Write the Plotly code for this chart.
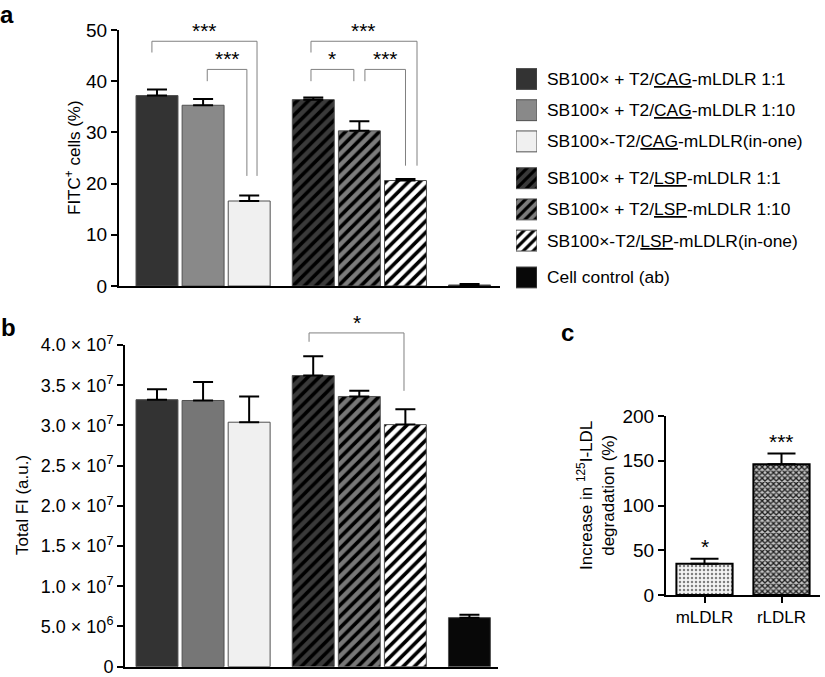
import plotly.graph_objects as go

# ---------------- data ----------------
groups = [0, 0, 0, 1, 1, 1, 2]
legend_labels = [
    "SB100× + T2/<u>CAG</u>-mLDLR 1:1",
    "SB100× + T2/<u>CAG</u>-mLDLR 1:10",
    "SB100×-T2/<u>CAG</u>-mLDLR(in-one)",
    "SB100× + T2/<u>LSP</u>-mLDLR 1:1",
    "SB100× + T2/<u>LSP</u>-mLDLR 1:10",
    "SB100×-T2/<u>LSP</u>-mLDLR(in-one)",
    "Cell control (ab)",
]
a_vals = [37.2, 35.3, 16.6, 36.4, 30.3, 20.6, 0.2]
a_err = [1.2, 1.2, 1.1, 0.4, 1.9, 0.3, 0.2]
a_ticks = [0, 10, 20, 30, 40, 50]

b_vals = [33.2e6, 33.1e6, 30.4e6, 36.2e6, 33.6e6, 30.1e6, 6.1e6]
b_err = [1.3e6, 2.3e6, 3.2e6, 2.4e6, 0.7e6, 1.9e6, 0.35e6]
b_ticks = [0, 5e6, 1e7, 1.5e7, 2e7, 2.5e7, 3e7, 3.5e7, 4e7]
b_ticktext = ["0", "5.0 × 10<sup>6</sup>", "1.0 × 10<sup>7</sup>", "1.5 × 10<sup>7</sup>",
              "2.0 × 10<sup>7</sup>", "2.5 × 10<sup>7</sup>", "3.0 × 10<sup>7</sup>",
              "3.5 × 10<sup>7</sup>", "4.0 × 10<sup>7</sup>"]

c_cats = ["mLDLR", "rLDLR"]
c_vals = [35, 146]
c_err = [5.6, 12]
c_stars = ["*", "***"]
c_ticks = [0, 50, 100, 150, 200]

# significance brackets: (left bar, dx, right bar, dx, top, left end, right end, label)
a_brackets = [
    (0, -0.11, 2, 0.17, 47.8, 45.6, 21.5, "***"),
    (1, 0.09, 2, -0.05, 42.3, 40.0, 21.5, "***"),
    (3, -0.05, 5, 0.25, 47.8, 45.6, 23.5, "***"),
    (3, -0.05, 4, -0.12, 42.3, 40.0, 40.0, "*"),
    (4, 0.12, 5, 0.0, 42.3, 40.0, 23.5, "***"),
]
b_brackets = [
    (3, -0.09, 5, -0.03, 41.5e6, 40.4e6, 34.3e6, "*"),
]

# ---------------- styles ----------------
GAP = 0.39
pos = [i + GAP * g for i, g in enumerate(groups)]
leg_pos = [i + 0.18 * g for i, g in enumerate(groups)]

shapes_pat = ["", "", "", "/", "/", "/", ""]
a_colors = ["#333333", "#898989", "#f0f0f0", "#3a3a3a", "#7c7c7c", "#ffffff", "#080808"]
b_colors = ["#333333", "#767676", "#f0f0f0", "#3a3a3a", "#777777", "#ffffff", "#080808"]
OUT = "#505050"
FONT = "Liberation Sans, Arial, Helvetica, sans-serif"

W, H = 825, 677


def px_x(p):
    return p / W


def px_y(p):
    return 1 - p / H


def marker_for(color, shape, size=8):
    m = dict(color=color, line=dict(color=OUT, width=1))
    if shape:
        m["pattern"] = dict(shape=shape, fgcolor="black", bgcolor=color, fgopacity=1,
                            size=size, solidity=0.45, fillmode="replace")
    return m


fig = go.Figure()

# panel a
for k in range(len(a_vals)):
    fig.add_trace(go.Bar(
        x=[pos[k]], y=[a_vals[k]], width=0.91, marker=marker_for(a_colors[k], shapes_pat[k]),
        error_y=dict(type="data", symmetric=False, array=[a_err[k]], arrayminus=[0],
                     color="black", thickness=2, width=10),
        xaxis="x", yaxis="y", showlegend=False, hoverinfo="y"))

# panel b
for k in range(len(b_vals)):
    fig.add_trace(go.Bar(
        x=[pos[k]], y=[b_vals[k]], width=0.91, marker=marker_for(b_colors[k], shapes_pat[k]),
        error_y=dict(type="data", symmetric=False, array=[b_err[k]], arrayminus=[0],
                     color="black", thickness=2, width=10),
        xaxis="x2", yaxis="y2", showlegend=False, hoverinfo="y"))

# panel c
c_style = [
    dict(color="#f4f4f4", pattern=dict(shape=".", fgcolor="#808080", bgcolor="#f4f4f4",
                                       fgopacity=1, size=4, solidity=0.3, fillmode="replace")),
    dict(color="#c4c4c4", pattern=dict(shape="x", fgcolor="#1e1e1e", bgcolor="#c4c4c4",
                                       fgopacity=1, size=4, solidity=0.55, fillmode="replace")),
]
for k, cat in enumerate(c_cats):
    fig.add_trace(go.Bar(
        x=[cat], y=[c_vals[k]], width=0.73,
        marker=dict(line=dict(color="black", width=2), **c_style[k]),
        error_y=dict(type="data", symmetric=False, array=[c_err[k]], arrayminus=[0],
                     color="black", thickness=2, width=14),
        xaxis="x3", yaxis="y3", showlegend=False, hoverinfo="y"))

# legend swatches
for k in range(len(legend_labels)):
    fig.add_trace(go.Bar(
        orientation="h", x=[1], y=[leg_pos[k]], width=0.67,
        marker=marker_for(a_colors[k], shapes_pat[k], size=7),
        xaxis="x4", yaxis="y4", showlegend=False, hoverinfo="skip"))

# domains (page pixels)
xa = [px_x(119), px_x(500)]
ya = [px_y(286), px_y(30)]
xb = [px_x(125), px_x(498)]
yb = [px_y(666.7), px_y(345)]
xc = [px_x(666), px_x(820)]
yc = [px_y(595), px_y(416)]
xl = [px_x(516), px_x(537)]
yl_rng = [6.96, -0.6]
yl = [px_y(79 + 6.96 * 31.2), px_y(79 - 0.6 * 31.2)]

TICKFONT = dict(family=FONT, size=19, color="black")
axis_common = dict(showline=True, linecolor="black", linewidth=2, showgrid=False,
                   zeroline=False, ticks="outside", tickwidth=2, ticklen=6,
                   tickcolor="black", automargin=False)
hidden_x = dict(showline=True, linecolor="black", linewidth=2, showgrid=False,
                zeroline=False, showticklabels=False, ticks="", automargin=False)

fig.update_layout(
    template="none",
    width=W, height=H, margin=dict(l=0, r=0, t=0, b=0, pad=0, autoexpand=False),
    paper_bgcolor="white", plot_bgcolor="rgba(0,0,0,0)", barmode="overlay",
    font=dict(family=FONT, color="black"),
    xaxis=dict(domain=xa, range=[-0.824, 7.44], anchor="y", **hidden_x),
    yaxis=dict(domain=ya, range=[0, 50], anchor="x", tickvals=a_ticks,
               tickfont=TICKFONT, **axis_common),
    xaxis2=dict(domain=xb, range=[-0.694, 7.40], anchor="y2", **hidden_x),
    yaxis2=dict(domain=yb, range=[0, 4e7], anchor="x2", tickvals=b_ticks,
                ticktext=b_ticktext, tickfont=dict(family=FONT, size=18, color="black"),
                **axis_common),
    xaxis3=dict(domain=xc, anchor="y3", tickfont=dict(family=FONT, size=17, color="black"),
                **axis_common),
    yaxis3=dict(domain=yc, range=[0, 200], anchor="x3", tickvals=c_ticks,
                tickfont=TICKFONT, **axis_common),
    xaxis4=dict(domain=xl, range=[0, 1], anchor="y4", visible=False, automargin=False),
    yaxis4=dict(domain=yl, range=yl_rng, anchor="x4", visible=False, automargin=False),
)

shapes = []
annots = []
GRAY = "#808080"
STARFONT = dict(family=FONT, size=21, color="black")

for (i, di, j, dj, top, ly, ry, lab) in a_brackets:
    x0, x1 = pos[i] + di, pos[j] + dj
    path = f"M{x0},{ly} L{x0},{top} L{x1},{top} L{x1},{ry}"
    shapes.append(dict(type="path", path=path, xref="x", yref="y",
                       line=dict(color=GRAY, width=1)))
    annots.append(dict(x=(x0 + x1) / 2, y=top, xref="x", yref="y", text=lab,
                       showarrow=False, xanchor="center", yanchor="middle", yshift=11,
                       font=STARFONT))


def b_paper(v):
    return yb[0] + v / 4e7 * (yb[1] - yb[0])


for (i, di, j, dj, top, ly, ry, lab) in b_brackets:
    x0, x1 = pos[i] + di, pos[j] + dj
    for (xa0, ya0, xa1, ya1) in [(x0, ly, x0, top), (x0, top, x1, top), (x1, top, x1, ry)]:
        shapes.append(dict(type="line", x0=xa0, x1=xa1, y0=b_paper(ya0), y1=b_paper(ya1),
                           xref="x2", yref="paper", line=dict(color=GRAY, width=1)))
    annots.append(dict(x=(x0 + x1) / 2, y=b_paper(top), xref="x2", yref="paper", text=lab,
                       showarrow=False, xanchor="center", yanchor="middle", yshift=10,
                       font=STARFONT))

for k, cat in enumerate(c_cats):
    annots.append(dict(x=cat, y=c_vals[k] + c_err[k], xref="x3", yref="y3", text=c_stars[k],
                       showarrow=False, xanchor="center", yanchor="middle", yshift=12,
                       font=STARFONT))

# legend labels
for k, lab in enumerate(legend_labels):
    annots.append(dict(x=px_x(545), y=leg_pos[k], xref="paper", yref="y4", text=lab,
                       showarrow=False, xanchor="left", yanchor="middle",
                       font=dict(family=FONT, size=17.4, color="black")))

# axis titles
TITLEFONT = dict(family=FONT, size=17, color="black")
for txt, xx, yy in [("FITC<sup>+</sup> cells (%)", 73, 158),
                    ("Total FI (a.u.)", 22, 505),
                    ("Increase in <sup>125</sup>I-LDL<br>degradation (%)", 596, 496)]:
    annots.append(dict(x=px_x(xx), y=px_y(yy), xref="paper", yref="paper", text=txt,
                       textangle=-90, showarrow=False, xanchor="center", yanchor="middle",
                       font=TITLEFONT))

# panel letters
for letter, xx, yy in [("a", 7, 15), ("b", 8, 327), ("c", 567, 332)]:
    annots.append(dict(x=px_x(xx), y=px_y(yy), xref="paper", yref="paper",
                       text=f"<b>{letter}</b>", showarrow=False,
                       xanchor="center", yanchor="middle",
                       font=dict(family=FONT, size=24, color="black")))

fig.update_layout(shapes=shapes, annotations=annots)
fig.write_html("out.html",
               config={"displayModeBar": False},
               post_script="document.body.style.margin='0px';document.body.style.padding='0px';")
